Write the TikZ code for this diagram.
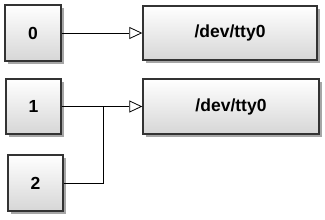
\documentclass[tikz,border=0pt]{standalone}
\usepackage{fontspec}
\setmainfont{Liberation Sans}
\usepackage{tikz}
\usetikzlibrary{arrows.meta, positioning, shadows}

\tikzset{
  fdbox/.style={draw=black!80, line width=1.4pt, top color=white, bottom color=black!16,
    drop shadow={shadow xshift=3pt, shadow yshift=-3pt, fill=black!35, opacity=1},
    font=\fontsize{17.5}{20}\selectfont\bfseries, inner sep=0pt},
  link/.style={line width=0.8pt, -{Triangle[open, length=13pt, width=12pt]}}
}

\begin{document}
\begin{tikzpicture}[x=1pt, y=1pt]
				\useasboundingbox (0,0) rectangle (325,-220);
				% file descriptors
				\node[fdbox, minimum width=56pt, minimum height=56pt] (fd0) at (33,-33) {0};
				\node[fdbox, minimum width=55pt, minimum height=55pt] (fd1) at (33.5,-106.5) {1};
				\node[fdbox, minimum width=55pt, minimum height=56pt] (fd2) at (35.5,-183) {2};
				% devices
				\node[fdbox, minimum width=174pt, minimum height=54pt] (tty0) at (230,-33) {/dev/tty0};
				\node[fdbox, minimum width=176pt, minimum height=55pt] (tty1) at (231,-106.5) {/dev/tty0};
				\coordinate (join) at (103,-106.5);
				\draw[link] (fd0.east) -- (tty0.west);
				\draw[link] (fd1.east) -- (tty1.west);
				\draw[line width=0.8pt] (fd2.east) -| (join);
			\end{tikzpicture}
\end{document}
